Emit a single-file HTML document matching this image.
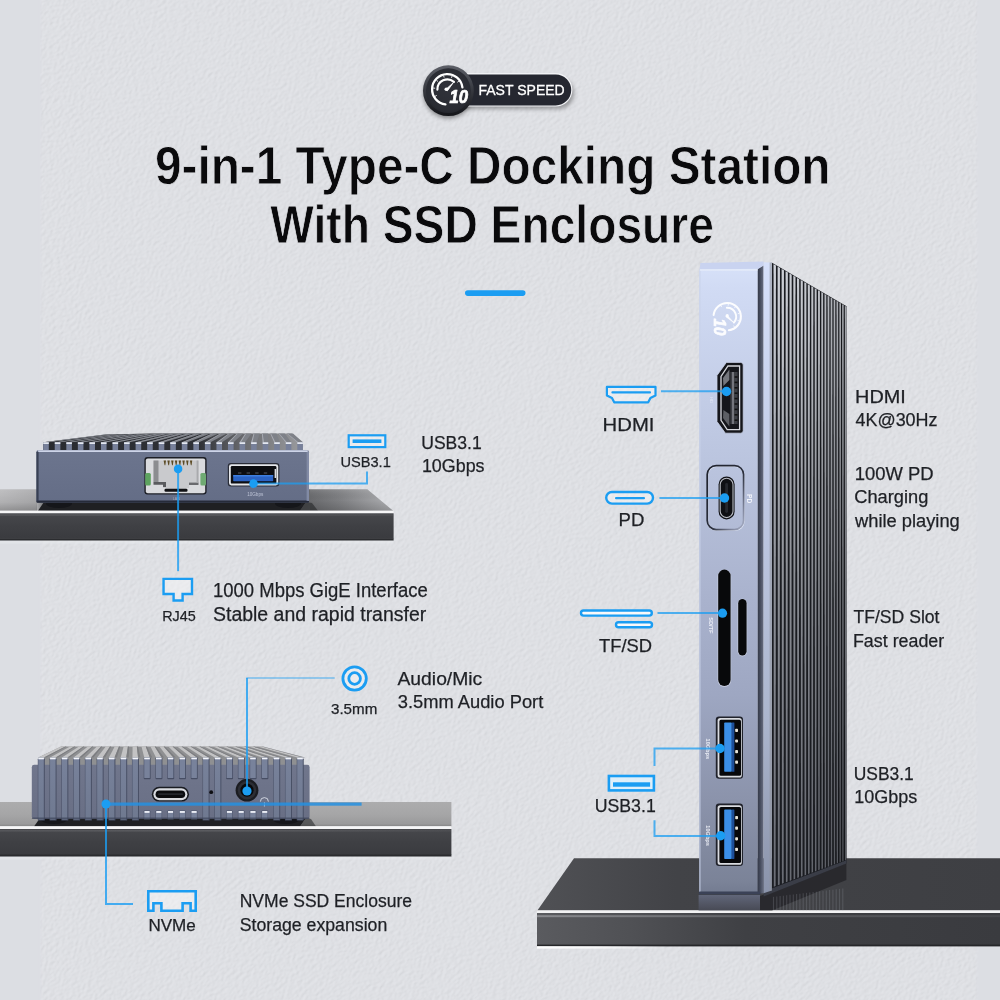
<!DOCTYPE html>
<html lang="en"><head><meta charset="utf-8"><title>9-in-1 Type-C Docking Station</title>
<style>html,body{margin:0;padding:0;background:#dcdee3;}body{width:1000px;height:1000px;overflow:hidden;position:relative;}svg{position:absolute;left:0;top:0;display:block;will-change:transform;}text{white-space:pre;}</style></head>
<body>
<svg width="1000" height="1000" viewBox="0 0 1000 1000">
<defs>
<filter id="tex" x="0" y="0" width="100%" height="100%" color-interpolation-filters="sRGB">
  <feTurbulence type="fractalNoise" baseFrequency="0.26 0.34" numOctaves="3" seed="7" result="n"/>
  <feDiffuseLighting in="n" surfaceScale="0.75" diffuseConstant="1" lighting-color="#ffffff" result="l">
    <feDistantLight azimuth="250" elevation="62"/>
  </feDiffuseLighting>
  <feColorMatrix in="l" type="matrix" values="0.18 0 0 0 0.713  0 0.18 0 0 0.719  0 0 0.18 0 0.735  0 0 0 0 1"/>
</filter>
<linearGradient id="shelfTopL" x1="0" y1="0" x2="1" y2="0">
  <stop offset="0" stop-color="#8b8b8d"/><stop offset="0.1" stop-color="#6a6b6e"/><stop offset="0.8" stop-color="#68696c"/><stop offset="1" stop-color="#9a9b9e"/>
</linearGradient>
<linearGradient id="shelfTop2" x1="0" y1="0" x2="0" y2="1">
  <stop offset="0" stop-color="#858586"/><stop offset="1" stop-color="#b6b6b7"/>
</linearGradient>
<linearGradient id="bodyA" x1="0" y1="0" x2="0" y2="1">
  <stop offset="0" stop-color="#6c758e"/><stop offset="1" stop-color="#646d86"/>
</linearGradient>
<linearGradient id="frontR" gradientUnits="userSpaceOnUse" x1="0" y1="269" x2="0" y2="894">
  <stop offset="0" stop-color="#d6e0f8"/><stop offset="0.03" stop-color="#d1dbf4"/><stop offset="0.29" stop-color="#bcc6e0"/><stop offset="0.53" stop-color="#a9b2cd"/><stop offset="0.68" stop-color="#9ea7c2"/><stop offset="0.85" stop-color="#8b93ab"/><stop offset="0.98" stop-color="#7b8398"/><stop offset="1" stop-color="#737b90"/>
</linearGradient>
<linearGradient id="shelfR" x1="0" y1="0" x2="1" y2="0">
  <stop offset="0" stop-color="#77787c"/><stop offset="0.25" stop-color="#4a4b4f"/><stop offset="1" stop-color="#3a3b3f"/>
</linearGradient>
<radialGradient id="badge" cx="0.5" cy="0.45" r="0.6">
  <stop offset="0" stop-color="#30323a"/><stop offset="0.8" stop-color="#2a2c33"/><stop offset="1" stop-color="#22242a"/>
</radialGradient>
<linearGradient id="badgeRim" x1="0" y1="0" x2="0" y2="1">
  <stop offset="0" stop-color="#5d6068"/><stop offset="0.45" stop-color="#3a3c43"/><stop offset="1" stop-color="#141519"/>
</linearGradient>
<filter id="sh" x="-30%" y="-30%" width="160%" height="180%"><feGaussianBlur stdDeviation="2.2"/></filter>
<filter id="b1" x="-30%" y="-30%" width="160%" height="160%"><feGaussianBlur stdDeviation="0.6"/></filter>
</defs>
<rect width="1000" height="1000" fill="#dcdee3"/>
<clipPath id="texclip"><rect x="40" y="0" width="938.4" height="1000"/></clipPath>
<g clip-path="url(#texclip)"><rect x="-300" y="-300" width="1600" height="1600" transform="rotate(-40 500 500)" filter="url(#tex)"/></g>
<rect x="38.5" y="0" width="3" height="1000" fill="#dcdee3" opacity="0.5"/>
<rect x="976.9" y="0" width="3" height="1000" fill="#dcdee3" opacity="0.5"/>
<g>
<rect x="455" y="78" width="119" height="31" rx="15.5" fill="#000" opacity="0.32" filter="url(#sh)"/>
<circle cx="448.4" cy="93.5" r="25" fill="#000" opacity="0.38" filter="url(#sh)"/>
<rect x="450" y="73.0" width="122.4" height="33.6" rx="16.8" fill="#f1f2f5"/>
<rect x="450" y="74.4" width="121.2" height="31" rx="15.5" fill="#252730"/>
<circle cx="448.4" cy="90.7" r="25.4" fill="url(#badgeRim)"/>
<circle cx="448.4" cy="90.7" r="22.4" fill="url(#badge)"/>
<g transform="translate(447.30 89.30) rotate(0) scale(1.0)" opacity="1.0">
<path d="M-1.85 15.09 A15.20 15.20 0 1 1 15.09 -1.85" fill="none" stroke="#fff" stroke-width="2.3" stroke-linecap="round"/>
<path d="M-9.89 0.35 A9.90 9.90 0 0 1 6.62 -7.36" fill="none" stroke="#fff" stroke-width="2.2" stroke-linecap="round"/>
<path d="M-10.57 6.10 L-12.30 7.10" stroke="#fff" stroke-width="0.9"/>
<path d="M-12.15 -1.06 L-14.15 -1.24" stroke="#fff" stroke-width="0.9"/>
<path d="M-9.35 -7.84 L-10.88 -9.13" stroke="#fff" stroke-width="0.9"/>
<path d="M-3.16 -11.78 L-3.68 -13.72" stroke="#fff" stroke-width="0.9"/>
<path d="M4.17 -11.46 L4.86 -13.34" stroke="#fff" stroke-width="0.9"/>
<path d="M9.99 -7.00 L11.63 -8.14" stroke="#fff" stroke-width="0.9"/>
<path d="M-1.6 0.2 L6.2 -6.8 L0.2 1.4 Z" fill="#fff" stroke="#fff" stroke-width="0.8" stroke-linejoin="round"/>
<circle cx="-1" cy="0" r="1.8" fill="#fff"/>
<text x="2.2" y="14.1" font-family="'Liberation Sans',sans-serif" font-weight="bold" font-style="italic" font-size="18" fill="#fff" stroke="#fff" stroke-width="0.7" stroke-linejoin="round" textLength="18.6" lengthAdjust="spacingAndGlyphs">10</text>
</g>
</g>
<rect x="465" y="290.3" width="60.5" height="5.6" rx="2.8" fill="#1b9df2"/>
<defs>
<linearGradient id="s1top" gradientUnits="userSpaceOnUse" x1="0" y1="0" x2="394" y2="0">
  <stop offset="0" stop-color="#c4c4c6"/><stop offset="0.09" stop-color="#b6b6b8"/><stop offset="0.12" stop-color="#5a5b5e"/><stop offset="0.78" stop-color="#68696c"/><stop offset="0.86" stop-color="#7e7f82"/><stop offset="1" stop-color="#b0b1b4"/>
</linearGradient>
<linearGradient id="s1front" x1="0" y1="0" x2="0" y2="1">
  <stop offset="0" stop-color="#47484c"/><stop offset="0.5" stop-color="#3f4044"/><stop offset="1" stop-color="#3a3b3f"/>
</linearGradient>
<linearGradient id="groove" x1="0" y1="0" x2="1" y2="1">
  <stop offset="0" stop-color="#1f222d"/><stop offset="0.55" stop-color="#2a2e3b"/><stop offset="0.8" stop-color="#767c92"/><stop offset="1" stop-color="#aab1c8"/>
</linearGradient>
<linearGradient id="s2topL" x1="0" y1="0" x2="0" y2="1">
  <stop offset="0" stop-color="#8c8c8d"/><stop offset="1" stop-color="#c6c6c7"/>
</linearGradient>
<linearGradient id="s2top" x1="0" y1="0" x2="0" y2="1">
  <stop offset="0" stop-color="#acacad"/><stop offset="0.5" stop-color="#a6a6a7"/><stop offset="0.9" stop-color="#9a9a9b"/><stop offset="1" stop-color="#848485"/>
</linearGradient>
<linearGradient id="bodyB" x1="0" y1="0" x2="0" y2="1">
  <stop offset="0" stop-color="#70768c"/><stop offset="1" stop-color="#696f85"/>
</linearGradient>
<linearGradient id="finB" x1="0" y1="0" x2="0" y2="1">
  <stop offset="0" stop-color="#78829b"/><stop offset="1" stop-color="#6f7990"/>
</linearGradient>
<linearGradient id="s3top" gradientUnits="userSpaceOnUse" x1="537" y1="0" x2="1000" y2="0">
  <stop offset="0" stop-color="#505155"/><stop offset="0.3" stop-color="#424347"/><stop offset="1" stop-color="#3e3f43"/>
</linearGradient>
<linearGradient id="s3front" gradientUnits="userSpaceOnUse" x1="537" y1="0" x2="1000" y2="0">
  <stop offset="0" stop-color="#5a5b5f"/><stop offset="0.2" stop-color="#505155"/><stop offset="0.45" stop-color="#3f4044"/><stop offset="1" stop-color="#3a3b3f"/>
</linearGradient>
<linearGradient id="finR" x1="0" y1="0" x2="0" y2="1">
  <stop offset="0" stop-color="#d0d3da"/><stop offset="0.1" stop-color="#c6c9d0"/><stop offset="0.3" stop-color="#a9acb3"/><stop offset="0.54" stop-color="#8c8f96"/><stop offset="0.73" stop-color="#7d8088"/><stop offset="1" stop-color="#6a6d75"/>
</linearGradient>
<linearGradient id="finShade" gradientUnits="userSpaceOnUse" x1="772" y1="0" x2="847" y2="0">
  <stop offset="0" stop-color="#000" stop-opacity="0"/><stop offset="0.5" stop-color="#000" stop-opacity="0.06"/><stop offset="1" stop-color="#000" stop-opacity="0.22"/>
</linearGradient>
<linearGradient id="d1gap" gradientUnits="userSpaceOnUse" x1="43" y1="0" x2="303" y2="0">
  <stop offset="0" stop-color="#292b30"/><stop offset="0.6" stop-color="#2f3136"/><stop offset="0.78" stop-color="#6c6d71"/><stop offset="1" stop-color="#9b9c9f"/>
</linearGradient>
<linearGradient id="s1sh" gradientUnits="userSpaceOnUse" x1="300" y1="0" x2="338" y2="0">
  <stop offset="0" stop-color="#1f2023"/><stop offset="1" stop-color="#1f2023" stop-opacity="0"/>
</linearGradient>
<linearGradient id="topShadeL" x1="0" y1="0" x2="0" y2="1">
  <stop offset="0" stop-color="#000" stop-opacity="0.02"/><stop offset="0.6" stop-color="#000" stop-opacity="0.1"/><stop offset="1" stop-color="#000" stop-opacity="0.26"/>
</linearGradient>
<linearGradient id="topShade" x1="0" y1="0" x2="0" y2="1">
  <stop offset="0" stop-color="#fff" stop-opacity="0.12"/><stop offset="0.5" stop-color="#000" stop-opacity="0"/><stop offset="1" stop-color="#000" stop-opacity="0.16"/>
</linearGradient>
<linearGradient id="gloss1" x1="0" y1="0" x2="1" y2="0">
  <stop offset="0" stop-color="#8a8b8f" stop-opacity="0.22"/><stop offset="0.5" stop-color="#8a8b8f" stop-opacity="0.3"/><stop offset="1" stop-color="#8a8b8f" stop-opacity="0.1"/>
</linearGradient>
<linearGradient id="gloss3" x1="0" y1="0" x2="1" y2="0">
  <stop offset="0" stop-color="#9a9b9f" stop-opacity="0.75"/><stop offset="0.5" stop-color="#8a8b8f" stop-opacity="0.4"/><stop offset="1" stop-color="#8a8b8f" stop-opacity="0.15"/>
</linearGradient>
<linearGradient id="s3hl" x1="0" y1="0" x2="1" y2="0">
  <stop offset="0" stop-color="#fff" stop-opacity="0.95"/><stop offset="0.5" stop-color="#fff" stop-opacity="0.7"/><stop offset="1" stop-color="#fff" stop-opacity="0"/>
</linearGradient>
<linearGradient id="reflF" x1="0" y1="0" x2="0" y2="1">
  <stop offset="0" stop-color="#6b728a"/><stop offset="1" stop-color="#4a4d5a"/>
</linearGradient>
<linearGradient id="chamD" x1="0" y1="0" x2="1" y2="0">
  <stop offset="0" stop-color="#323746"/><stop offset="0.45" stop-color="#454b5c"/><stop offset="1" stop-color="#6a7084"/>
</linearGradient>
<linearGradient id="chamL" x1="0" y1="0" x2="0" y2="1">
  <stop offset="0" stop-color="#d6e0fa"/><stop offset="0.3" stop-color="#c3cde8"/><stop offset="0.73" stop-color="#abb5cd"/><stop offset="1" stop-color="#8a93aa"/>
</linearGradient>
</defs>
<g>
<polygon points="0.00,489.20 367.30,489.20 393.40,511.00 0.00,511.00" fill="url(#s1top)"/>
<polygon points="310.00,489.20 367.30,489.20 393.40,511.00 310.00,511.00" fill="url(#topShade)"/>
<polygon points="0.00,489.20 37.00,489.20 37.00,511.00 0.00,511.00" fill="url(#topShadeL)"/>
<polygon points="44.00,502.00 306.00,502.00 300.00,510.80 38.00,510.80" fill="#1f2023"/>
<polygon points="306.00,502.00 312.00,503.00 318.00,510.80 300.00,510.80" fill="#1f2023" opacity="0.55"/>
<rect x="0.00" y="510.60" width="393.60" height="2.80" fill="#f6f6f7"/>
<rect x="0.00" y="513.30" width="393.60" height="25.60" fill="url(#s1front)"/>
<rect x="0.00" y="538.60" width="393.60" height="2.00" fill="#2b2c2f"/>
<rect x="0.00" y="540.60" width="393.60" height="3.00" fill="#eceef1" opacity="0.4"/>
<rect x="0.00" y="514.20" width="393.60" height="1.60" fill="url(#gloss1)"/>
</g>
<g>
<ellipse cx="59" cy="503.5" rx="13" ry="4.6" fill="#15161a"/>
<ellipse cx="288" cy="503.5" rx="13" ry="4.6" fill="#15161a"/>
<polygon points="43.20,442.30 105.75,434.60 150.00,433.60 291.88,433.60 302.90,442.30 302.90,450.50 43.20,450.50" fill="url(#d1gap)"/>
<polygon points="43.20,442.30 104.65,434.60 110.86,434.60 48.80,442.30" fill="#7e8188"/>
<polygon points="43.20,442.50 104.65,434.60 105.45,434.60 44.50,442.50" fill="#a9acb4"/>
<polygon points="54.75,442.30 112.93,434.49 119.14,434.49 60.35,442.30" fill="#7e8188"/>
<polygon points="54.75,442.50 112.93,434.49 113.73,434.49 56.05,442.50" fill="#a9acb4"/>
<polygon points="66.30,442.30 121.20,434.38 127.42,434.38 71.90,442.30" fill="#7e8188"/>
<polygon points="66.30,442.50 121.20,434.38 122.00,434.38 67.60,442.50" fill="#a9acb4"/>
<polygon points="77.85,442.30 129.48,434.27 135.70,434.27 83.45,442.30" fill="#7e8188"/>
<polygon points="77.85,442.50 129.48,434.27 130.28,434.27 79.15,442.50" fill="#a9acb4"/>
<polygon points="89.40,442.30 137.76,434.16 143.97,434.16 95.00,442.30" fill="#7e8188"/>
<polygon points="89.40,442.50 137.76,434.16 138.56,434.16 90.70,442.50" fill="#a9acb4"/>
<polygon points="100.95,442.30 146.04,434.04 152.25,434.04 106.55,442.30" fill="#7e8188"/>
<polygon points="100.95,442.50 146.04,434.04 146.84,434.04 102.25,442.50" fill="#a9acb4"/>
<polygon points="112.50,442.30 154.32,433.93 160.53,433.93 118.10,442.30" fill="#7e8188"/>
<polygon points="112.50,442.50 154.32,433.93 155.12,433.93 113.80,442.50" fill="#a9acb4"/>
<polygon points="124.05,442.30 162.59,433.82 168.81,433.82 129.65,442.30" fill="#7e8188"/>
<polygon points="124.05,442.50 162.59,433.82 163.39,433.82 125.35,442.50" fill="#a9acb4"/>
<polygon points="135.60,442.30 170.87,433.71 177.09,433.71 141.20,442.30" fill="#7e8188"/>
<polygon points="135.60,442.50 170.87,433.71 171.67,433.71 136.90,442.50" fill="#a9acb4"/>
<polygon points="147.15,442.30 179.15,433.60 185.36,433.60 152.75,442.30" fill="#7e8188"/>
<polygon points="147.15,442.50 179.15,433.60 179.95,433.60 148.45,442.50" fill="#a9acb4"/>
<polygon points="158.70,442.30 187.43,433.60 193.64,433.60 164.30,442.30" fill="#7e8188"/>
<polygon points="158.70,442.50 187.43,433.60 188.23,433.60 160.00,442.50" fill="#a9acb4"/>
<polygon points="170.25,442.30 195.71,433.60 201.92,433.60 175.85,442.30" fill="#7e8188"/>
<polygon points="170.25,442.50 195.71,433.60 196.51,433.60 171.55,442.50" fill="#a9acb4"/>
<polygon points="181.80,442.30 203.99,433.60 210.20,433.60 187.40,442.30" fill="#7e8188"/>
<polygon points="181.80,442.50 203.99,433.60 204.79,433.60 183.10,442.50" fill="#a9acb4"/>
<polygon points="193.35,442.30 212.26,433.60 218.48,433.60 198.95,442.30" fill="#7e8188"/>
<polygon points="193.35,442.50 212.26,433.60 213.06,433.60 194.65,442.50" fill="#a9acb4"/>
<polygon points="204.90,442.30 220.54,433.60 226.76,433.60 210.50,442.30" fill="#7e8188"/>
<polygon points="204.90,442.50 220.54,433.60 221.34,433.60 206.20,442.50" fill="#a9acb4"/>
<polygon points="216.45,442.30 228.82,433.60 235.03,433.60 222.05,442.30" fill="#7e8188"/>
<polygon points="216.45,442.50 228.82,433.60 229.62,433.60 217.75,442.50" fill="#a9acb4"/>
<polygon points="228.00,442.30 237.10,433.60 243.31,433.60 233.60,442.30" fill="#7e8188"/>
<polygon points="228.00,442.50 237.10,433.60 237.90,433.60 229.30,442.50" fill="#a9acb4"/>
<polygon points="239.55,442.30 245.38,433.60 251.59,433.60 245.15,442.30" fill="#7e8188"/>
<polygon points="239.55,442.50 245.38,433.60 246.18,433.60 240.85,442.50" fill="#a9acb4"/>
<polygon points="251.10,442.30 253.65,433.60 259.87,433.60 256.70,442.30" fill="#7e8188"/>
<polygon points="251.10,442.50 253.65,433.60 254.45,433.60 252.40,442.50" fill="#a9acb4"/>
<polygon points="262.65,442.30 261.93,433.60 268.15,433.60 268.25,442.30" fill="#7e8188"/>
<polygon points="262.65,442.50 261.93,433.60 262.73,433.60 263.95,442.50" fill="#a9acb4"/>
<polygon points="274.20,442.30 270.21,433.60 276.42,433.60 279.80,442.30" fill="#7e8188"/>
<polygon points="274.20,442.50 270.21,433.60 271.01,433.60 275.50,442.50" fill="#a9acb4"/>
<polygon points="285.75,442.30 278.49,433.60 284.70,433.60 291.35,442.30" fill="#7e8188"/>
<polygon points="285.75,442.50 278.49,433.60 279.29,433.60 287.05,442.50" fill="#a9acb4"/>
<polygon points="297.30,442.30 286.77,433.60 292.98,433.60 302.90,442.30" fill="#7e8188"/>
<polygon points="297.30,442.50 286.77,433.60 287.57,433.60 298.60,442.50" fill="#a9acb4"/>
<rect x="43.20" y="442.30" width="5.60" height="8.20" fill="#77809a"/>
<rect x="43.20" y="442.30" width="5.60" height="1.60" fill="#f0f3fa"/>
<rect x="54.75" y="442.30" width="5.60" height="8.20" fill="#77809a"/>
<rect x="54.75" y="442.30" width="5.60" height="1.60" fill="#f0f3fa"/>
<rect x="66.30" y="442.30" width="5.60" height="8.20" fill="#77809a"/>
<rect x="66.30" y="442.30" width="5.60" height="1.60" fill="#f0f3fa"/>
<rect x="77.85" y="442.30" width="5.60" height="8.20" fill="#77809a"/>
<rect x="77.85" y="442.30" width="5.60" height="1.60" fill="#f0f3fa"/>
<rect x="89.40" y="442.30" width="5.60" height="8.20" fill="#77809a"/>
<rect x="89.40" y="442.30" width="5.60" height="1.60" fill="#f0f3fa"/>
<rect x="100.95" y="442.30" width="5.60" height="8.20" fill="#77809a"/>
<rect x="100.95" y="442.30" width="5.60" height="1.60" fill="#f0f3fa"/>
<rect x="112.50" y="442.30" width="5.60" height="8.20" fill="#77809a"/>
<rect x="112.50" y="442.30" width="5.60" height="1.60" fill="#f0f3fa"/>
<rect x="124.05" y="442.30" width="5.60" height="8.20" fill="#77809a"/>
<rect x="124.05" y="442.30" width="5.60" height="1.60" fill="#f0f3fa"/>
<rect x="135.60" y="442.30" width="5.60" height="8.20" fill="#77809a"/>
<rect x="135.60" y="442.30" width="5.60" height="1.60" fill="#f0f3fa"/>
<rect x="147.15" y="442.30" width="5.60" height="8.20" fill="#77809a"/>
<rect x="147.15" y="442.30" width="5.60" height="1.60" fill="#f0f3fa"/>
<rect x="158.70" y="442.30" width="5.60" height="8.20" fill="#77809a"/>
<rect x="158.70" y="442.30" width="5.60" height="1.60" fill="#f0f3fa"/>
<rect x="170.25" y="442.30" width="5.60" height="8.20" fill="#77809a"/>
<rect x="170.25" y="442.30" width="5.60" height="1.60" fill="#f0f3fa"/>
<rect x="181.80" y="442.30" width="5.60" height="8.20" fill="#77809a"/>
<rect x="181.80" y="442.30" width="5.60" height="1.60" fill="#f0f3fa"/>
<rect x="193.35" y="442.30" width="5.60" height="8.20" fill="#77809a"/>
<rect x="193.35" y="442.30" width="5.60" height="1.60" fill="#f0f3fa"/>
<rect x="204.90" y="442.30" width="5.60" height="8.20" fill="#77809a"/>
<rect x="204.90" y="442.30" width="5.60" height="1.60" fill="#f0f3fa"/>
<rect x="216.45" y="442.30" width="5.60" height="8.20" fill="#77809a"/>
<rect x="216.45" y="442.30" width="5.60" height="1.60" fill="#f0f3fa"/>
<rect x="228.00" y="442.30" width="5.60" height="8.20" fill="#77809a"/>
<rect x="228.00" y="442.30" width="5.60" height="1.60" fill="#f0f3fa"/>
<rect x="239.55" y="442.30" width="5.60" height="8.20" fill="#77809a"/>
<rect x="239.55" y="442.30" width="5.60" height="1.60" fill="#f0f3fa"/>
<rect x="251.10" y="442.30" width="5.60" height="8.20" fill="#77809a"/>
<rect x="251.10" y="442.30" width="5.60" height="1.60" fill="#f0f3fa"/>
<rect x="262.65" y="442.30" width="5.60" height="8.20" fill="#77809a"/>
<rect x="262.65" y="442.30" width="5.60" height="1.60" fill="#f0f3fa"/>
<rect x="274.20" y="442.30" width="5.60" height="8.20" fill="#77809a"/>
<rect x="274.20" y="442.30" width="5.60" height="1.60" fill="#f0f3fa"/>
<rect x="285.75" y="442.30" width="5.60" height="8.20" fill="#77809a"/>
<rect x="285.75" y="442.30" width="5.60" height="1.60" fill="#f0f3fa"/>
<rect x="297.30" y="442.30" width="5.60" height="8.20" fill="#77809a"/>
<rect x="297.30" y="442.30" width="5.60" height="1.60" fill="#f0f3fa"/>
<rect x="36.40" y="450.00" width="272.60" height="52.80" rx="2.20" fill="url(#bodyA)"/>
<rect x="37.60" y="450.20" width="270.40" height="1.70" rx="0.80" fill="#cdd4e8"/>
<rect x="36.40" y="500.40" width="272.60" height="2.40" rx="1.10" fill="#262b3a"/>
<rect x="36.40" y="451.60" width="2.20" height="50.00" rx="0.80" fill="#30374a" opacity="0.85"/>
<rect x="306.60" y="452.00" width="2.40" height="49.00" fill="#8d96b1" opacity="0.7"/>
<rect x="144.40" y="457.00" width="62.20" height="37.60" rx="3.00" fill="#1d1f26"/>
<rect x="145.80" y="458.40" width="59.40" height="34.80" rx="2.00" fill="#dadbde"/>
<path d="M153.5 460.5 H198.5 V483.5 H189 V488 H186 V491 H166 V488 H163 V483.5 H153.5 Z" fill="#c9cacd"/>
<path d="M153.5 460.5 H158.5 V482 H153.5 Z" fill="#8c8d90"/>
<path d="M153.5 482 H166 V487 H163 V484.8 H153.5 Z" fill="#5a5b5e"/>
<path d="M189 482.6 H198.5 V485 H189 Z" fill="#6a6b6e"/>
<path d="M196.6 460.5 H198.5 V483 H196.6 Z" fill="#a9aaad"/>
<rect x="164.50" y="488.80" width="23.00" height="3.00" rx="1.20" fill="#101114"/>
<polygon points="163.60,460.40 166.00,460.40 165.30,465.20 164.60,465.20" fill="#5b4a23"/>
<polygon points="167.35,460.40 169.75,460.40 169.05,465.20 168.35,465.20" fill="#5b4a23"/>
<polygon points="171.10,460.40 173.50,460.40 172.80,465.20 172.10,465.20" fill="#5b4a23"/>
<polygon points="174.85,460.40 177.25,460.40 176.55,465.20 175.85,465.20" fill="#5b4a23"/>
<polygon points="178.60,460.40 181.00,460.40 180.30,465.20 179.60,465.20" fill="#5b4a23"/>
<polygon points="182.35,460.40 184.75,460.40 184.05,465.20 183.35,465.20" fill="#5b4a23"/>
<polygon points="186.10,460.40 188.50,460.40 187.80,465.20 187.10,465.20" fill="#5b4a23"/>
<polygon points="189.85,460.40 192.25,460.40 191.55,465.20 190.85,465.20" fill="#5b4a23"/>
<rect x="145.20" y="473.00" width="5.60" height="12.60" rx="1.50" fill="#5da35f"/>
<rect x="200.40" y="473.00" width="5.60" height="12.60" rx="1.50" fill="#6faa72"/>
<rect x="227.80" y="463.00" width="51.60" height="23.60" rx="3.00" fill="#2a2d38"/>
<rect x="229.00" y="464.20" width="49.20" height="21.20" rx="2.40" fill="#e4e6ea"/>
<rect x="230.80" y="466.00" width="45.60" height="17.60" rx="1.20" fill="#0c0d11"/>
<rect x="233.20" y="475.00" width="40.00" height="6.20" rx="0.60" fill="#2b63c4"/>
<rect x="233.20" y="475.00" width="40.00" height="1.50" rx="0.60" fill="#3f7fe0"/>
<rect x="238.00" y="472.20" width="3.40" height="1.60" fill="#3a3c44"/>
<rect x="246.60" y="472.20" width="3.40" height="1.60" fill="#3a3c44"/>
<rect x="255.20" y="472.20" width="3.40" height="1.60" fill="#3a3c44"/>
<rect x="263.80" y="472.20" width="3.40" height="1.60" fill="#3a3c44"/>
<rect x="274.60" y="469.00" width="1.60" height="9.00" fill="#d8dade"/>
<text x="176.3" y="500.2" font-family="'Liberation Sans',sans-serif" font-size="3.6" fill="#b4bbd0" text-anchor="middle" opacity="0.8">LAN</text>
<text x="255.2" y="495.6" font-family="'Liberation Sans',sans-serif" font-size="4.6" fill="#c6ccde" text-anchor="middle" opacity="0.9">10Gbps</text>
</g>
<g>
<rect x="0.00" y="802.00" width="451.40" height="24.40" fill="url(#s2top)"/>
<polygon points="40.00,818.00 306.00,818.00 300.00,826.40 34.00,826.40" fill="#1f2023"/>
<polygon points="306.00,818.00 311.00,819.00 316.00,826.40 300.00,826.40" fill="#1f2023" opacity="0.55"/>
<rect x="0.00" y="826.20" width="451.40" height="2.80" fill="#f6f6f7"/>
<rect x="0.00" y="829.00" width="451.40" height="26.00" fill="url(#s1front)"/>
<rect x="0.00" y="854.60" width="451.40" height="2.00" fill="#2b2c2f"/>
<rect x="0.00" y="856.60" width="451.40" height="3.00" fill="#eceef1" opacity="0.4"/>
<rect x="0.00" y="830.00" width="451.40" height="1.60" fill="url(#gloss1)"/>
</g>
<g>
<ellipse cx="54" cy="819.5" rx="13" ry="4.6" fill="#15161a"/>
<ellipse cx="286" cy="819.5" rx="13" ry="4.6" fill="#15161a"/>
<polygon points="38.30,757.60 61.14,746.60 261.87,746.60 302.84,757.60 302.84,766.00 38.30,766.00" fill="#8f9092"/>
<polygon points="38.30,757.60 61.14,746.60 65.39,746.60 43.90,757.60" fill="#c3c3c4"/>
<polygon points="43.90,757.60 65.39,746.60 66.59,746.60 46.30,757.60" fill="#7c7d80"/>
<polygon points="50.07,757.60 70.08,746.60 74.32,746.60 55.67,757.60" fill="#c3c3c4"/>
<polygon points="55.67,757.60 74.32,746.60 75.52,746.60 58.07,757.60" fill="#7c7d80"/>
<polygon points="61.84,757.60 79.01,746.60 83.25,746.60 67.44,757.60" fill="#c3c3c4"/>
<polygon points="67.44,757.60 83.25,746.60 84.45,746.60 69.84,757.60" fill="#7c7d80"/>
<polygon points="73.61,757.60 87.94,746.60 92.19,746.60 79.21,757.60" fill="#c3c3c4"/>
<polygon points="79.21,757.60 92.19,746.60 93.39,746.60 81.61,757.60" fill="#7c7d80"/>
<polygon points="85.38,757.60 96.87,746.60 101.12,746.60 90.98,757.60" fill="#c3c3c4"/>
<polygon points="90.98,757.60 101.12,746.60 102.32,746.60 93.38,757.60" fill="#7c7d80"/>
<polygon points="97.15,757.60 105.80,746.60 110.05,746.60 102.75,757.60" fill="#c3c3c4"/>
<polygon points="102.75,757.60 110.05,746.60 111.25,746.60 105.15,757.60" fill="#7c7d80"/>
<polygon points="108.92,757.60 114.73,746.60 118.98,746.60 114.52,757.60" fill="#c3c3c4"/>
<polygon points="114.52,757.60 118.98,746.60 120.18,746.60 116.92,757.60" fill="#7c7d80"/>
<polygon points="120.69,757.60 123.66,746.60 127.91,746.60 126.29,757.60" fill="#c3c3c4"/>
<polygon points="126.29,757.60 127.91,746.60 129.11,746.60 128.69,757.60" fill="#7c7d80"/>
<polygon points="132.46,757.60 132.59,746.60 136.84,746.60 138.06,757.60" fill="#c3c3c4"/>
<polygon points="138.06,757.60 136.84,746.60 138.04,746.60 140.46,757.60" fill="#7c7d80"/>
<polygon points="144.23,757.60 141.52,746.60 145.77,746.60 149.83,757.60" fill="#c3c3c4"/>
<polygon points="149.83,757.60 145.77,746.60 146.97,746.60 152.23,757.60" fill="#7c7d80"/>
<polygon points="156.00,757.60 150.45,746.60 154.70,746.60 161.60,757.60" fill="#c3c3c4"/>
<polygon points="161.60,757.60 154.70,746.60 155.90,746.60 164.00,757.60" fill="#7c7d80"/>
<polygon points="167.77,757.60 159.38,746.60 163.63,746.60 173.37,757.60" fill="#c3c3c4"/>
<polygon points="173.37,757.60 163.63,746.60 164.83,746.60 175.77,757.60" fill="#7c7d80"/>
<polygon points="179.54,757.60 168.31,746.60 172.56,746.60 185.14,757.60" fill="#c3c3c4"/>
<polygon points="185.14,757.60 172.56,746.60 173.76,746.60 187.54,757.60" fill="#7c7d80"/>
<polygon points="191.31,757.60 177.24,746.60 181.49,746.60 196.91,757.60" fill="#c3c3c4"/>
<polygon points="196.91,757.60 181.49,746.60 182.69,746.60 199.31,757.60" fill="#7c7d80"/>
<polygon points="203.08,757.60 186.17,746.60 190.42,746.60 208.68,757.60" fill="#c3c3c4"/>
<polygon points="208.68,757.60 190.42,746.60 191.62,746.60 211.08,757.60" fill="#7c7d80"/>
<polygon points="214.85,757.60 195.11,746.60 199.35,746.60 220.45,757.60" fill="#c3c3c4"/>
<polygon points="220.45,757.60 199.35,746.60 200.55,746.60 222.85,757.60" fill="#7c7d80"/>
<polygon points="226.62,757.60 204.04,746.60 208.29,746.60 232.22,757.60" fill="#c3c3c4"/>
<polygon points="232.22,757.60 208.29,746.60 209.49,746.60 234.62,757.60" fill="#7c7d80"/>
<polygon points="238.39,757.60 212.97,746.60 217.22,746.60 243.99,757.60" fill="#c3c3c4"/>
<polygon points="243.99,757.60 217.22,746.60 218.42,746.60 246.39,757.60" fill="#7c7d80"/>
<polygon points="250.16,757.60 221.90,746.60 226.15,746.60 255.76,757.60" fill="#c3c3c4"/>
<polygon points="255.76,757.60 226.15,746.60 227.35,746.60 258.16,757.60" fill="#7c7d80"/>
<polygon points="261.93,757.60 230.83,746.60 235.08,746.60 267.53,757.60" fill="#c3c3c4"/>
<polygon points="267.53,757.60 235.08,746.60 236.28,746.60 269.93,757.60" fill="#7c7d80"/>
<polygon points="273.70,757.60 239.76,746.60 244.01,746.60 279.30,757.60" fill="#c3c3c4"/>
<polygon points="279.30,757.60 244.01,746.60 245.21,746.60 281.70,757.60" fill="#7c7d80"/>
<polygon points="285.47,757.60 248.69,746.60 252.94,746.60 291.07,757.60" fill="#c3c3c4"/>
<polygon points="291.07,757.60 252.94,746.60 254.14,746.60 293.47,757.60" fill="#7c7d80"/>
<polygon points="297.24,757.60 257.62,746.60 261.87,746.60 302.84,757.60" fill="#c3c3c4"/>
<polygon points="302.84,757.60 261.87,746.60 263.07,746.60 305.24,757.60" fill="#7c7d80"/>
<rect x="31.80" y="764.80" width="277.80" height="54.00" rx="2.40" fill="url(#bodyB)"/>
<rect x="37.80" y="758.60" width="7.00" height="62.00" rx="0.60" fill="#495066"/>
<rect x="38.30" y="757.60" width="5.50" height="61.80" rx="0.60" fill="url(#finB)"/>
<rect x="38.30" y="757.60" width="5.60" height="1.70" fill="#f3f5fb"/>
<rect x="49.57" y="758.60" width="7.00" height="62.00" rx="0.60" fill="#495066"/>
<rect x="50.07" y="757.60" width="5.50" height="61.80" rx="0.60" fill="url(#finB)"/>
<rect x="50.07" y="757.60" width="5.60" height="1.70" fill="#f3f5fb"/>
<rect x="61.34" y="758.60" width="7.00" height="62.00" rx="0.60" fill="#495066"/>
<rect x="61.84" y="757.60" width="5.50" height="61.80" rx="0.60" fill="url(#finB)"/>
<rect x="61.84" y="757.60" width="5.60" height="1.70" fill="#f3f5fb"/>
<rect x="73.11" y="758.60" width="7.00" height="62.00" rx="0.60" fill="#495066"/>
<rect x="73.61" y="757.60" width="5.50" height="61.80" rx="0.60" fill="url(#finB)"/>
<rect x="73.61" y="757.60" width="5.60" height="1.70" fill="#f3f5fb"/>
<rect x="84.88" y="758.60" width="7.00" height="62.00" rx="0.60" fill="#495066"/>
<rect x="85.38" y="757.60" width="5.50" height="61.80" rx="0.60" fill="url(#finB)"/>
<rect x="85.38" y="757.60" width="5.60" height="1.70" fill="#f3f5fb"/>
<rect x="96.65" y="758.60" width="7.00" height="62.00" rx="0.60" fill="#495066"/>
<rect x="97.15" y="757.60" width="5.50" height="61.80" rx="0.60" fill="url(#finB)"/>
<rect x="97.15" y="757.60" width="5.60" height="1.70" fill="#f3f5fb"/>
<rect x="108.42" y="758.60" width="7.00" height="62.00" rx="0.60" fill="#495066"/>
<rect x="108.92" y="757.60" width="5.50" height="61.80" rx="0.60" fill="url(#finB)"/>
<rect x="108.92" y="757.60" width="5.60" height="1.70" fill="#f3f5fb"/>
<rect x="120.19" y="758.60" width="7.00" height="62.00" rx="0.60" fill="#495066"/>
<rect x="120.69" y="757.60" width="5.50" height="61.80" rx="0.60" fill="url(#finB)"/>
<rect x="120.69" y="757.60" width="5.60" height="1.70" fill="#f3f5fb"/>
<rect x="131.96" y="758.60" width="7.00" height="62.00" rx="0.60" fill="#495066"/>
<rect x="132.46" y="757.60" width="5.50" height="61.80" rx="0.60" fill="url(#finB)"/>
<rect x="132.46" y="757.60" width="5.60" height="1.70" fill="#f3f5fb"/>
<rect x="143.73" y="757.60" width="6.90" height="21.60" rx="0.80" fill="#474e64"/>
<rect x="144.23" y="757.60" width="5.60" height="20.40" rx="0.60" fill="#78829b"/>
<rect x="144.23" y="757.60" width="5.60" height="1.70" fill="#f3f5fb"/>
<rect x="143.73" y="810.40" width="6.60" height="9.20" rx="0.80" fill="#4d546a"/>
<rect x="144.23" y="811.00" width="5.60" height="8.00" rx="0.60" fill="#78829b"/>
<rect x="144.53" y="811.00" width="5.00" height="1.90" fill="#e9ecf4"/>
<rect x="155.50" y="757.60" width="6.90" height="21.60" rx="0.80" fill="#474e64"/>
<rect x="156.00" y="757.60" width="5.60" height="20.40" rx="0.60" fill="#78829b"/>
<rect x="156.00" y="757.60" width="5.60" height="1.70" fill="#f3f5fb"/>
<rect x="155.50" y="810.40" width="6.60" height="9.20" rx="0.80" fill="#4d546a"/>
<rect x="156.00" y="811.00" width="5.60" height="8.00" rx="0.60" fill="#78829b"/>
<rect x="156.30" y="811.00" width="5.00" height="1.90" fill="#e9ecf4"/>
<rect x="167.27" y="757.60" width="6.90" height="21.60" rx="0.80" fill="#474e64"/>
<rect x="167.77" y="757.60" width="5.60" height="20.40" rx="0.60" fill="#78829b"/>
<rect x="167.77" y="757.60" width="5.60" height="1.70" fill="#f3f5fb"/>
<rect x="167.27" y="810.40" width="6.60" height="9.20" rx="0.80" fill="#4d546a"/>
<rect x="167.77" y="811.00" width="5.60" height="8.00" rx="0.60" fill="#78829b"/>
<rect x="168.07" y="811.00" width="5.00" height="1.90" fill="#e9ecf4"/>
<rect x="179.04" y="757.60" width="6.90" height="21.60" rx="0.80" fill="#474e64"/>
<rect x="179.54" y="757.60" width="5.60" height="20.40" rx="0.60" fill="#78829b"/>
<rect x="179.54" y="757.60" width="5.60" height="1.70" fill="#f3f5fb"/>
<rect x="179.04" y="810.40" width="6.60" height="9.20" rx="0.80" fill="#4d546a"/>
<rect x="179.54" y="811.00" width="5.60" height="8.00" rx="0.60" fill="#78829b"/>
<rect x="179.84" y="811.00" width="5.00" height="1.90" fill="#e9ecf4"/>
<rect x="190.81" y="757.60" width="6.90" height="21.60" rx="0.80" fill="#474e64"/>
<rect x="191.31" y="757.60" width="5.60" height="20.40" rx="0.60" fill="#78829b"/>
<rect x="191.31" y="757.60" width="5.60" height="1.70" fill="#f3f5fb"/>
<rect x="190.81" y="810.40" width="6.60" height="9.20" rx="0.80" fill="#4d546a"/>
<rect x="191.31" y="811.00" width="5.60" height="8.00" rx="0.60" fill="#78829b"/>
<rect x="191.61" y="811.00" width="5.00" height="1.90" fill="#e9ecf4"/>
<rect x="202.58" y="758.60" width="7.00" height="62.00" rx="0.60" fill="#495066"/>
<rect x="203.08" y="757.60" width="5.50" height="61.80" rx="0.60" fill="url(#finB)"/>
<rect x="203.08" y="757.60" width="5.60" height="1.70" fill="#f3f5fb"/>
<rect x="214.35" y="758.60" width="7.00" height="62.00" rx="0.60" fill="#495066"/>
<rect x="214.85" y="757.60" width="5.50" height="61.80" rx="0.60" fill="url(#finB)"/>
<rect x="214.85" y="757.60" width="5.60" height="1.70" fill="#f3f5fb"/>
<rect x="226.12" y="757.60" width="6.90" height="21.60" rx="0.80" fill="#474e64"/>
<rect x="226.62" y="757.60" width="5.60" height="20.40" rx="0.60" fill="#78829b"/>
<rect x="226.62" y="757.60" width="5.60" height="1.70" fill="#f3f5fb"/>
<rect x="226.12" y="810.40" width="6.60" height="9.20" rx="0.80" fill="#4d546a"/>
<rect x="226.62" y="811.00" width="5.60" height="8.00" rx="0.60" fill="#78829b"/>
<rect x="226.92" y="811.00" width="5.00" height="1.90" fill="#e9ecf4"/>
<rect x="237.89" y="757.60" width="6.90" height="21.60" rx="0.80" fill="#474e64"/>
<rect x="238.39" y="757.60" width="5.60" height="20.40" rx="0.60" fill="#78829b"/>
<rect x="238.39" y="757.60" width="5.60" height="1.70" fill="#f3f5fb"/>
<rect x="237.89" y="810.40" width="6.60" height="9.20" rx="0.80" fill="#4d546a"/>
<rect x="238.39" y="811.00" width="5.60" height="8.00" rx="0.60" fill="#78829b"/>
<rect x="238.69" y="811.00" width="5.00" height="1.90" fill="#e9ecf4"/>
<rect x="249.66" y="757.60" width="6.90" height="21.60" rx="0.80" fill="#474e64"/>
<rect x="250.16" y="757.60" width="5.60" height="20.40" rx="0.60" fill="#78829b"/>
<rect x="250.16" y="757.60" width="5.60" height="1.70" fill="#f3f5fb"/>
<rect x="249.66" y="810.40" width="6.60" height="9.20" rx="0.80" fill="#4d546a"/>
<rect x="250.16" y="811.00" width="5.60" height="8.00" rx="0.60" fill="#78829b"/>
<rect x="250.46" y="811.00" width="5.00" height="1.90" fill="#e9ecf4"/>
<rect x="261.43" y="757.60" width="6.90" height="21.60" rx="0.80" fill="#474e64"/>
<rect x="261.93" y="757.60" width="5.60" height="20.40" rx="0.60" fill="#78829b"/>
<rect x="261.93" y="757.60" width="5.60" height="1.70" fill="#f3f5fb"/>
<rect x="261.43" y="810.40" width="6.60" height="9.20" rx="0.80" fill="#4d546a"/>
<rect x="261.93" y="811.00" width="5.60" height="8.00" rx="0.60" fill="#78829b"/>
<rect x="262.23" y="811.00" width="5.00" height="1.90" fill="#e9ecf4"/>
<rect x="273.20" y="758.60" width="7.00" height="62.00" rx="0.60" fill="#495066"/>
<rect x="273.70" y="757.60" width="5.50" height="61.80" rx="0.60" fill="url(#finB)"/>
<rect x="273.70" y="757.60" width="5.60" height="1.70" fill="#f3f5fb"/>
<rect x="284.97" y="758.60" width="7.00" height="62.00" rx="0.60" fill="#495066"/>
<rect x="285.47" y="757.60" width="5.50" height="61.80" rx="0.60" fill="url(#finB)"/>
<rect x="285.47" y="757.60" width="5.60" height="1.70" fill="#f3f5fb"/>
<rect x="296.74" y="758.60" width="7.00" height="62.00" rx="0.60" fill="#495066"/>
<rect x="297.24" y="757.60" width="5.50" height="61.80" rx="0.60" fill="url(#finB)"/>
<rect x="297.24" y="757.60" width="5.60" height="1.70" fill="#f3f5fb"/>
<rect x="31.80" y="817.40" width="277.80" height="1.60" rx="0.80" fill="#3d445a" opacity="0.7"/>
<rect x="151.80" y="786.80" width="37.20" height="14.80" rx="7.40" fill="#1a1c22"/>
<rect x="153.40" y="788.20" width="34.00" height="12.00" rx="6.00" fill="#d9dbe0"/>
<rect x="155.60" y="790.40" width="29.60" height="7.60" rx="3.80" fill="#0b0c0f"/>
<rect x="158.00" y="793.20" width="25.00" height="1.90" rx="0.90" fill="#24262c"/>
<circle cx="211.2" cy="792.2" r="1.9" fill="#0d0e12"/>
<circle cx="247" cy="790.2" r="11.4" fill="#1b1c21"/>
<circle cx="247" cy="790.2" r="9.2" fill="#2c2e35"/>
<circle cx="247" cy="790.2" r="6.6" fill="#08090b"/>
<path d="M260.4 801.6 a4 4 0 0 1 8 0" fill="none" stroke="#e9ecf4" stroke-width="0.8"/>
<path d="M264.4 802.4 v4" stroke="#e9ecf4" stroke-width="0.9"/>
</g>
<g>
<polygon points="574.00,858.20 1000.00,858.20 1000.00,911.00 537.00,911.00" fill="url(#s3top)"/>
<rect x="537.00" y="910.20" width="463.00" height="2.80" fill="#f2f2f3"/>
<rect x="537.00" y="913.00" width="463.00" height="32.00" fill="url(#s3front)"/>
<rect x="537.00" y="944.60" width="463.00" height="1.80" fill="#26272a"/>
<rect x="537.00" y="946.20" width="130.00" height="2.40" fill="url(#s3hl)"/>
<rect x="537.00" y="915.20" width="463.00" height="2.00" fill="url(#gloss3)"/>
</g>
<g>
<polygon points="698.60,895.00 760.00,895.00 760.00,910.40 698.60,910.40" fill="url(#reflF)" opacity="0.75"/>
<polygon points="760.00,896.00 846.40,861.00 846.40,880.00 772.00,910.40 760.00,910.40" fill="#1f2024" opacity="0.7"/>
<path d="M773.50 896.82 V910.2" stroke="#8a8d96" stroke-width="1.1" opacity="0.28"/>
<path d="M776.80 896.42 V910.2" stroke="#8a8d96" stroke-width="1.1" opacity="0.28"/>
<path d="M780.10 896.03 V910.2" stroke="#8a8d96" stroke-width="1.1" opacity="0.28"/>
<path d="M783.40 895.63 V910.2" stroke="#8a8d96" stroke-width="1.1" opacity="0.28"/>
<path d="M786.70 895.24 V910.2" stroke="#8a8d96" stroke-width="1.1" opacity="0.28"/>
<path d="M790.00 894.84 V910.2" stroke="#8a8d96" stroke-width="1.1" opacity="0.28"/>
<path d="M793.30 894.44 V910.2" stroke="#8a8d96" stroke-width="1.1" opacity="0.28"/>
<path d="M796.60 894.05 V910.2" stroke="#8a8d96" stroke-width="1.1" opacity="0.28"/>
<path d="M799.90 893.65 V910.2" stroke="#8a8d96" stroke-width="1.1" opacity="0.28"/>
<path d="M803.20 893.26 V910.2" stroke="#8a8d96" stroke-width="1.1" opacity="0.28"/>
<path d="M806.50 892.86 V910.2" stroke="#8a8d96" stroke-width="1.1" opacity="0.28"/>
<path d="M809.80 892.46 V910.2" stroke="#8a8d96" stroke-width="1.1" opacity="0.28"/>
<path d="M813.10 892.07 V910.2" stroke="#8a8d96" stroke-width="1.1" opacity="0.28"/>
<path d="M816.40 891.67 V910.2" stroke="#8a8d96" stroke-width="1.1" opacity="0.28"/>
<path d="M819.70 891.28 V910.2" stroke="#8a8d96" stroke-width="1.1" opacity="0.28"/>
<path d="M823.00 890.88 V910.2" stroke="#8a8d96" stroke-width="1.1" opacity="0.28"/>
<path d="M826.30 890.48 V910.2" stroke="#8a8d96" stroke-width="1.1" opacity="0.28"/>
<path d="M829.60 890.09 V910.2" stroke="#8a8d96" stroke-width="1.1" opacity="0.28"/>
<path d="M832.90 889.69 V910.2" stroke="#8a8d96" stroke-width="1.1" opacity="0.28"/>
<path d="M836.20 889.30 V910.2" stroke="#8a8d96" stroke-width="1.1" opacity="0.28"/>
<path d="M839.50 888.90 V910.2" stroke="#8a8d96" stroke-width="1.1" opacity="0.28"/>
<path d="M842.80 888.50 V910.2" stroke="#8a8d96" stroke-width="1.1" opacity="0.28"/>
<polygon points="771.60,262.60 846.50,306.20 846.50,863.20 771.60,893.00" fill="#1b1d22"/>
<polygon points="773.53,264.22 775.92,265.61 775.63,885.90 773.82,886.79" fill="url(#finR)"/>
<polygon points="777.62,266.60 779.97,267.97 779.69,884.40 777.90,885.27" fill="url(#finR)"/>
<polygon points="781.64,268.95 783.95,270.29 783.67,882.93 781.92,883.79" fill="url(#finR)"/>
<polygon points="785.59,271.25 787.86,272.57 787.59,881.49 785.87,882.32" fill="url(#finR)"/>
<polygon points="789.48,273.51 791.70,274.80 791.44,880.06 789.75,880.89" fill="url(#finR)"/>
<polygon points="793.29,275.73 795.48,277.00 795.21,878.67 793.55,879.48" fill="url(#finR)"/>
<polygon points="797.03,277.90 799.18,279.15 798.92,877.30 797.29,878.09" fill="url(#finR)"/>
<polygon points="800.71,280.04 802.81,281.27 802.56,875.96 800.96,876.74" fill="url(#finR)"/>
<polygon points="804.31,282.14 806.38,283.34 806.13,874.64 804.56,875.40" fill="url(#finR)"/>
<polygon points="807.84,284.20 809.87,285.38 809.63,873.35 808.09,874.10" fill="url(#finR)"/>
<polygon points="811.31,286.22 813.30,287.37 813.06,872.08 811.55,872.81" fill="url(#finR)"/>
<polygon points="814.71,288.19 816.65,289.32 816.42,870.84 814.94,871.56" fill="url(#finR)"/>
<polygon points="818.03,290.13 819.94,291.24 819.71,869.62 818.26,870.33" fill="url(#finR)"/>
<polygon points="821.29,292.02 823.15,293.11 822.93,868.43 821.51,869.12" fill="url(#finR)"/>
<polygon points="824.47,293.88 826.30,294.94 826.08,867.27 824.70,867.95" fill="url(#finR)"/>
<polygon points="827.59,295.69 829.38,296.73 829.16,866.13 827.81,866.79" fill="url(#finR)"/>
<polygon points="830.64,297.47 832.38,298.48 832.17,865.02 830.85,865.67" fill="url(#finR)"/>
<polygon points="833.62,299.20 835.32,300.19 835.12,863.93 833.82,864.56" fill="url(#finR)"/>
<polygon points="836.53,300.90 838.19,301.86 837.99,862.87 836.73,863.49" fill="url(#finR)"/>
<polygon points="839.37,302.55 840.99,303.49 840.79,861.84 839.56,862.44" fill="url(#finR)"/>
<polygon points="842.14,304.16 843.72,305.08 843.53,860.83 842.33,861.41" fill="url(#finR)"/>
<polygon points="844.84,305.73 846.38,306.63 846.19,859.84 845.02,860.41" fill="url(#finR)"/>
<polygon points="771.60,262.60 846.50,306.20 846.50,859.80 771.60,887.50" fill="url(#finShade)"/>
<polygon points="763.60,891.50 846.50,860.20 846.50,863.60 763.60,896.50" fill="#3a3d47"/>
<polygon points="757.40,268.80 763.60,265.40 763.60,893.20 757.40,893.80" fill="url(#chamD)"/>
<polygon points="763.60,262.20 771.80,262.60 771.80,890.40 763.60,893.20" fill="url(#chamL)"/>
<polygon points="769.60,262.50 771.80,262.60 771.80,890.40 769.60,891.20" fill="#8e9199" opacity="0.55"/>
<polygon points="700.40,263.00 763.60,261.40 763.60,265.40 757.40,269.40 699.40,270.20" fill="#c9d3f0"/>
<path d="M699.2 271.2 Q699.2 269.6 700.8 269.6 L757.6 268.8 V893.8 H701.4 Q699.2 893.8 699.2 891.8 Z" fill="url(#frontR)"/>
<rect x="699.20" y="270.40" width="1.40" height="622.00" fill="#c9d1ea" opacity="0.7"/>
<rect x="700.00" y="269.30" width="57.60" height="1.30" fill="#e9eefa" opacity="0.9"/>
<rect x="698.80" y="891.60" width="61.50" height="3.00" rx="1.20" fill="#3b4257"/>
<g transform="translate(727.20 316.60) rotate(90) scale(0.9)" opacity="0.95">
<path d="M-1.85 15.09 A15.20 15.20 0 1 1 15.09 -1.85" fill="none" stroke="#fff" stroke-width="2.3" stroke-linecap="round"/>
<path d="M-9.89 0.35 A9.90 9.90 0 0 1 6.62 -7.36" fill="none" stroke="#fff" stroke-width="2.2" stroke-linecap="round"/>
<path d="M-10.57 6.10 L-12.30 7.10" stroke="#fff" stroke-width="0.9"/>
<path d="M-12.15 -1.06 L-14.15 -1.24" stroke="#fff" stroke-width="0.9"/>
<path d="M-9.35 -7.84 L-10.88 -9.13" stroke="#fff" stroke-width="0.9"/>
<path d="M-3.16 -11.78 L-3.68 -13.72" stroke="#fff" stroke-width="0.9"/>
<path d="M4.17 -11.46 L4.86 -13.34" stroke="#fff" stroke-width="0.9"/>
<path d="M9.99 -7.00 L11.63 -8.14" stroke="#fff" stroke-width="0.9"/>
<path d="M-1.6 0.2 L6.2 -6.8 L0.2 1.4 Z" fill="#fff" stroke="#fff" stroke-width="0.8" stroke-linejoin="round"/>
<circle cx="-1" cy="0" r="1.8" fill="#fff"/>
<text x="2.2" y="14.1" font-family="'Liberation Sans',sans-serif" font-weight="bold" font-style="italic" font-size="18" fill="#fff" stroke="#fff" stroke-width="0.7" stroke-linejoin="round" textLength="18.6" lengthAdjust="spacingAndGlyphs">10</text>
</g>
<path d="M726.4 362.4 H740.6 Q743.2 362.4 743.2 365 V430.6 Q743.2 433.2 740.6 433.2 H725.4 L717 421.6 V375.4 Z" fill="#15161b" stroke="#c9d0e6" stroke-width="0.8"/>
<path d="M728 366 H739.6 V429.6 H727.2 L721 420.4 V376.4 Z" fill="none" stroke="#d6d8dd" stroke-width="1.3"/>
<path d="M730.4 372 H737.6 V424 H730.4 Z" fill="#3c3e44"/>
<path d="M733 372 V424" stroke="#9a9ca3" stroke-width="1.2"/>
<path d="M734.6 377.0 h3" stroke="#111" stroke-width="1.6"/>
<path d="M734.6 382.4 h3" stroke="#111" stroke-width="1.6"/>
<path d="M734.6 387.8 h3" stroke="#111" stroke-width="1.6"/>
<path d="M734.6 393.2 h3" stroke="#111" stroke-width="1.6"/>
<path d="M734.6 398.6 h3" stroke="#111" stroke-width="1.6"/>
<path d="M734.6 404.0 h3" stroke="#111" stroke-width="1.6"/>
<path d="M734.6 409.4 h3" stroke="#111" stroke-width="1.6"/>
<path d="M734.6 414.8 h3" stroke="#111" stroke-width="1.6"/>
<path d="M734.6 420.2 h3" stroke="#111" stroke-width="1.6"/>
<path d="M723 378 L729.4 369.6 V380 L723.4 386 Z" fill="#75777d"/>
<path d="M723 418 L729.4 426.6 V414 L723.4 410 Z" fill="#5d5f65"/>
<rect x="707.60" y="466.40" width="36.40" height="64.00" rx="9.00" fill="none" stroke="#e9eefb" stroke-width="1.2" opacity="0.85"/>
<rect x="707.20" y="465.60" width="36.40" height="64.00" rx="9.00" fill="none" stroke="url(#groove)" stroke-width="1.7"/>
<rect x="718.60" y="476.40" width="16.00" height="43.00" rx="8.00" fill="#0f1014"/>
<rect x="720.20" y="478.20" width="12.80" height="39.40" rx="6.40" fill="none" stroke="#b9bcc4" stroke-width="1.1"/>
<rect x="725.20" y="483.00" width="2.80" height="30.00" rx="1.40" fill="#26282e"/>
<rect x="717.60" y="569.40" width="13.60" height="117.60" rx="6.80" fill="#e6eaf6" opacity="0.55"/>
<rect x="718.20" y="569.60" width="12.40" height="116.40" rx="6.20" fill="#08090b"/>
<rect x="737.60" y="598.80" width="9.60" height="57.60" rx="4.80" fill="#e6eaf6" opacity="0.55"/>
<rect x="738.20" y="599.00" width="8.40" height="56.40" rx="4.20" fill="#08090b"/>
<rect x="715.80" y="716.40" width="27.20" height="62.40" rx="3.20" fill="#20222b"/>
<rect x="717.60" y="718.00" width="24.20" height="59.60" rx="2.60" fill="#d9dbe0"/>
<rect x="719.40" y="719.80" width="21.60" height="56.00" rx="1.60" fill="#07080b"/>
<rect x="724.20" y="722.40" width="7.60" height="49.40" rx="0.80" fill="#3b8fe8"/>
<rect x="731.80" y="722.40" width="2.60" height="49.40" rx="0.40" fill="#1d4f9a"/>
<rect x="735.20" y="728.80" width="2.80" height="3.20" rx="0.80" fill="#e8e4d8"/>
<rect x="735.20" y="739.40" width="2.80" height="3.20" rx="0.80" fill="#e8e4d8"/>
<rect x="735.20" y="750.00" width="2.80" height="3.20" rx="0.80" fill="#e8e4d8"/>
<rect x="735.20" y="760.60" width="2.80" height="3.20" rx="0.80" fill="#e8e4d8"/>
<rect x="715.80" y="803.60" width="27.20" height="62.40" rx="3.20" fill="#20222b"/>
<rect x="717.60" y="805.20" width="24.20" height="59.60" rx="2.60" fill="#d9dbe0"/>
<rect x="719.40" y="807.00" width="21.60" height="56.00" rx="1.60" fill="#07080b"/>
<rect x="724.20" y="809.60" width="7.60" height="49.40" rx="0.80" fill="#3b8fe8"/>
<rect x="731.80" y="809.60" width="2.60" height="49.40" rx="0.40" fill="#1d4f9a"/>
<rect x="735.20" y="816.00" width="2.80" height="3.20" rx="0.80" fill="#e8e4d8"/>
<rect x="735.20" y="826.60" width="2.80" height="3.20" rx="0.80" fill="#e8e4d8"/>
<rect x="735.20" y="837.20" width="2.80" height="3.20" rx="0.80" fill="#e8e4d8"/>
<rect x="735.20" y="847.80" width="2.80" height="3.20" rx="0.80" fill="#e8e4d8"/>
<text transform="translate(709.6 400) rotate(90)" font-family="'Liberation Sans',sans-serif" font-size="4.2" fill="#e6eaf6" text-anchor="middle" opacity="0.8">HD</text>
<text transform="translate(746.6 498.6) rotate(90)" font-family="'Liberation Sans',sans-serif" font-size="6.6" font-weight="bold" fill="#f6f8fd" text-anchor="middle" opacity="0.95">PD</text>
<text transform="translate(709.2 625.4) rotate(90)" font-family="'Liberation Sans',sans-serif" font-size="5.6" font-weight="bold" fill="#f2f4fb" text-anchor="middle" opacity="0.9">SD/TF</text>
<text transform="translate(706 748.8) rotate(90)" font-family="'Liberation Sans',sans-serif" font-size="5.6" font-weight="bold" fill="#f2f4fb" text-anchor="middle" opacity="0.9">10Gbps</text>
<text transform="translate(706 835.6) rotate(90)" font-family="'Liberation Sans',sans-serif" font-size="5.6" font-weight="bold" fill="#f2f4fb" text-anchor="middle" opacity="0.9">10Gbps</text>
</g>
<rect x="348.7" y="435.3" width="36.6" height="11.8" fill="#ffffff" fill-opacity="0.38" stroke="#1b9df2" stroke-width="2.2"/>
<rect x="352.6" y="439.4" width="28.8" height="3.6" fill="#1b9df2"/>
<path d="M163.55 578.9 H192 V594 H182.6 V600.5 H173.6 V594 H163.55 Z" fill="#ffffff" fill-opacity="0.38" stroke="#1b9df2" stroke-width="2.4" stroke-linejoin="miter"/>
<circle cx="354.6" cy="678.5" r="11.7" fill="#ffffff" fill-opacity="0.38" stroke="#1b9df2" stroke-width="2.8"/>
<circle cx="354.6" cy="678.5" r="5.8" fill="none" stroke="#1b9df2" stroke-width="2.8"/>
<path d="M148.3 910.7 V891.3 H195.7 V910.7 H190.6 V903.3 H182.6 V910.7 H161.4 V903.3 H153.4 V910.7 Z" fill="#ffffff" fill-opacity="0.38" stroke="#1b9df2" stroke-width="2.6" stroke-linejoin="miter"/>
<path d="M606.9 386.9 H655.5 V395.4 L650.4 398 L648.2 402.3 H614.2 L612 398 L606.9 395.4 Z" fill="#ffffff" fill-opacity="0.38" stroke="#1b9df2" stroke-width="2.2" stroke-linejoin="round"/>
<rect x="611.4" y="391.3" width="39.6" height="2.1" rx="1" fill="#1b9df2"/>
<rect x="606.2" y="492" width="46.8" height="11.6" rx="5.8" fill="#ffffff" fill-opacity="0.38" stroke="#1b9df2" stroke-width="2.4"/>
<rect x="615" y="497.1" width="30" height="2.2" rx="1" fill="#1b9df2"/>
<rect x="581" y="610.5" width="70.8" height="5.1" rx="2.55" fill="#fff" fill-opacity="0.8" stroke="#1b9df2" stroke-width="2.4"/>
<rect x="616" y="622.2" width="36" height="5.1" rx="2.55" fill="#fff" fill-opacity="0.8" stroke="#1b9df2" stroke-width="2.4"/>
<rect x="608.9" y="776" width="45" height="14.4" fill="#dff2ff" fill-opacity="0.8" stroke="#1b9df2" stroke-width="2.6"/>
<rect x="613" y="782.3" width="37.1" height="4.4" fill="#1b9df2"/>
<path d="M178.1 468.8 V571.2" fill="none" stroke="#1b9df2" stroke-width="2.0" opacity="0.8"/>
<circle cx="178.1" cy="468.9" r="4.3" fill="#1b9df2"/>
<path d="M253.4 483.6 H367 V471.6" fill="none" stroke="#1b9df2" stroke-width="2.0" opacity="0.75"/>
<circle cx="253.5" cy="483.6" r="4.3" fill="#1b9df2"/>
<path d="M247 791 V678.1" fill="none" stroke="#1b9df2" stroke-width="2.0" opacity="0.8"/>
<path d="M246.3 678.1 H334.7" fill="none" stroke="#1b9df2" stroke-width="2.0" opacity="0.4"/>
<circle cx="247" cy="791" r="4.6" fill="#1b9df2"/>
<rect x="106" y="802.5" width="255.6" height="3.2" fill="#2490e2" opacity="0.85"/>
<path d="M106 804 V904 H133" fill="none" stroke="#1b9df2" stroke-width="2.0" opacity="0.8"/>
<circle cx="106" cy="804" r="4.5" fill="#1b9df2"/>
<path d="M661 391.3 H726.4" fill="none" stroke="#1b9df2" stroke-width="2.0" opacity="0.75"/>
<circle cx="726.5" cy="391.5" r="4.7" fill="#1b9df2"/>
<path d="M659.4 497.9 H724.6" fill="none" stroke="#1b9df2" stroke-width="2.0" opacity="0.75"/>
<circle cx="724.5" cy="498" r="4.7" fill="#1b9df2"/>
<path d="M657.5 613 H722.5" fill="none" stroke="#1b9df2" stroke-width="2.0" opacity="0.75"/>
<circle cx="722.5" cy="613.2" r="4.6" fill="#1b9df2"/>
<path d="M720 748.4 H654.5 V766" fill="none" stroke="#1b9df2" stroke-width="2.0" opacity="0.75"/>
<circle cx="720" cy="748.5" r="4.7" fill="#1b9df2"/>
<path d="M720.7 836.1 H654.5 V820.3" fill="none" stroke="#1b9df2" stroke-width="2.0" opacity="0.75"/>
<circle cx="720.7" cy="835.8" r="4.7" fill="#1b9df2"/>
<text x="154.98" y="184.20" font-family="'Liberation Sans',sans-serif" font-size="53.10" font-weight="bold" fill="#0a0a0c" textLength="675.54" lengthAdjust="spacingAndGlyphs" stroke="#dfe0e4" stroke-width="0.8">9-in-1 Type-C Docking Station</text>
<text x="270.25" y="242.80" font-family="'Liberation Sans',sans-serif" font-size="53.10" font-weight="bold" fill="#0a0a0c" textLength="443.76" lengthAdjust="spacingAndGlyphs" stroke="#dfe0e4" stroke-width="0.8">With SSD Enclosure</text>
<text x="478.47" y="95.10" font-family="'Liberation Sans',sans-serif" font-size="15.20" font-weight="normal" fill="#ffffff" textLength="86.29" lengthAdjust="spacingAndGlyphs" stroke="#fff" stroke-width="0.3">FAST SPEED</text>
<text x="340.45" y="466.60" font-family="'Liberation Sans',sans-serif" font-size="15.40" font-weight="normal" fill="#1e2025" textLength="50.33" lengthAdjust="spacingAndGlyphs" stroke="#1e2025" stroke-width="0.25">USB3.1</text>
<text x="421.20" y="448.80" font-family="'Liberation Sans',sans-serif" font-size="18.30" font-weight="normal" fill="#1e2025" textLength="60.58" lengthAdjust="spacingAndGlyphs" stroke="#1e2025" stroke-width="0.25">USB3.1</text>
<text x="421.95" y="472.40" font-family="'Liberation Sans',sans-serif" font-size="18.30" font-weight="normal" fill="#1e2025" textLength="62.57" lengthAdjust="spacingAndGlyphs" stroke="#1e2025" stroke-width="0.25">10Gbps</text>
<text x="162.18" y="620.90" font-family="'Liberation Sans',sans-serif" font-size="15.10" font-weight="normal" fill="#1e2025" textLength="33.60" lengthAdjust="spacingAndGlyphs" stroke="#1e2025" stroke-width="0.25">RJ45</text>
<text x="212.99" y="596.80" font-family="'Liberation Sans',sans-serif" font-size="20.00" font-weight="normal" fill="#1e2025" textLength="214.77" lengthAdjust="spacingAndGlyphs" stroke="#1e2025" stroke-width="0.25">1000 Mbps GigE Interface</text>
<text x="212.99" y="621.00" font-family="'Liberation Sans',sans-serif" font-size="20.00" font-weight="normal" fill="#1e2025" textLength="213.26" lengthAdjust="spacingAndGlyphs" stroke="#1e2025" stroke-width="0.25">Stable and rapid transfer</text>
<text x="330.98" y="713.90" font-family="'Liberation Sans',sans-serif" font-size="14.90" font-weight="normal" fill="#1e2025" textLength="46.30" lengthAdjust="spacingAndGlyphs" stroke="#1e2025" stroke-width="0.25">3.5mm</text>
<text x="397.50" y="684.60" font-family="'Liberation Sans',sans-serif" font-size="18.30" font-weight="normal" fill="#1e2025" textLength="84.75" lengthAdjust="spacingAndGlyphs" stroke="#1e2025" stroke-width="0.25">Audio/Mic</text>
<text x="397.75" y="708.20" font-family="'Liberation Sans',sans-serif" font-size="18.30" font-weight="normal" fill="#1e2025" textLength="145.51" lengthAdjust="spacingAndGlyphs" stroke="#1e2025" stroke-width="0.25">3.5mm Audio Port</text>
<text x="148.43" y="930.80" font-family="'Liberation Sans',sans-serif" font-size="16.30" font-weight="normal" fill="#1e2025" textLength="47.36" lengthAdjust="spacingAndGlyphs" stroke="#1e2025" stroke-width="0.25">NVMe</text>
<text x="239.73" y="907.20" font-family="'Liberation Sans',sans-serif" font-size="18.30" font-weight="normal" fill="#1e2025" textLength="172.28" lengthAdjust="spacingAndGlyphs" stroke="#1e2025" stroke-width="0.25">NVMe SSD Enclosure</text>
<text x="239.74" y="930.60" font-family="'Liberation Sans',sans-serif" font-size="18.30" font-weight="normal" fill="#1e2025" textLength="147.53" lengthAdjust="spacingAndGlyphs" stroke="#1e2025" stroke-width="0.25">Storage expansion</text>
<text x="602.64" y="430.60" font-family="'Liberation Sans',sans-serif" font-size="18.00" font-weight="normal" fill="#1e2025" textLength="51.76" lengthAdjust="spacingAndGlyphs" stroke="#1e2025" stroke-width="0.25">HDMI</text>
<text x="618.61" y="526.40" font-family="'Liberation Sans',sans-serif" font-size="18.00" font-weight="normal" fill="#1e2025" textLength="25.74" lengthAdjust="spacingAndGlyphs" stroke="#1e2025" stroke-width="0.25">PD</text>
<text x="598.99" y="651.50" font-family="'Liberation Sans',sans-serif" font-size="18.00" font-weight="normal" fill="#1e2025" textLength="53.04" lengthAdjust="spacingAndGlyphs" stroke="#1e2025" stroke-width="0.25">TF/SD</text>
<text x="594.70" y="812.30" font-family="'Liberation Sans',sans-serif" font-size="18.00" font-weight="normal" fill="#1e2025" textLength="61.08" lengthAdjust="spacingAndGlyphs" stroke="#1e2025" stroke-width="0.25">USB3.1</text>
<text x="855.14" y="402.60" font-family="'Liberation Sans',sans-serif" font-size="18.30" font-weight="normal" fill="#1e2025" textLength="50.74" lengthAdjust="spacingAndGlyphs" stroke="#1e2025" stroke-width="0.25">HDMI</text>
<text x="855.49" y="426.00" font-family="'Liberation Sans',sans-serif" font-size="18.30" font-weight="normal" fill="#1e2025" textLength="82.02" lengthAdjust="spacingAndGlyphs" stroke="#1e2025" stroke-width="0.25">4K@30Hz</text>
<text x="854.72" y="479.70" font-family="'Liberation Sans',sans-serif" font-size="18.30" font-weight="normal" fill="#1e2025" textLength="78.81" lengthAdjust="spacingAndGlyphs" stroke="#1e2025" stroke-width="0.25">100W PD</text>
<text x="854.22" y="502.60" font-family="'Liberation Sans',sans-serif" font-size="18.30" font-weight="normal" fill="#1e2025" textLength="74.06" lengthAdjust="spacingAndGlyphs" stroke="#1e2025" stroke-width="0.25">Charging</text>
<text x="855.00" y="526.50" font-family="'Liberation Sans',sans-serif" font-size="18.30" font-weight="normal" fill="#1e2025" textLength="104.77" lengthAdjust="spacingAndGlyphs" stroke="#1e2025" stroke-width="0.25">while playing</text>
<text x="853.50" y="623.30" font-family="'Liberation Sans',sans-serif" font-size="18.30" font-weight="normal" fill="#1e2025" textLength="86.00" lengthAdjust="spacingAndGlyphs" stroke="#1e2025" stroke-width="0.25">TF/SD Slot</text>
<text x="852.97" y="646.80" font-family="'Liberation Sans',sans-serif" font-size="18.30" font-weight="normal" fill="#1e2025" textLength="91.28" lengthAdjust="spacingAndGlyphs" stroke="#1e2025" stroke-width="0.25">Fast reader</text>
<text x="853.71" y="779.70" font-family="'Liberation Sans',sans-serif" font-size="18.30" font-weight="normal" fill="#1e2025" textLength="60.07" lengthAdjust="spacingAndGlyphs" stroke="#1e2025" stroke-width="0.25">USB3.1</text>
<text x="854.21" y="803.00" font-family="'Liberation Sans',sans-serif" font-size="18.30" font-weight="normal" fill="#1e2025" textLength="63.06" lengthAdjust="spacingAndGlyphs" stroke="#1e2025" stroke-width="0.25">10Gbps</text>
</svg>
</body></html>
